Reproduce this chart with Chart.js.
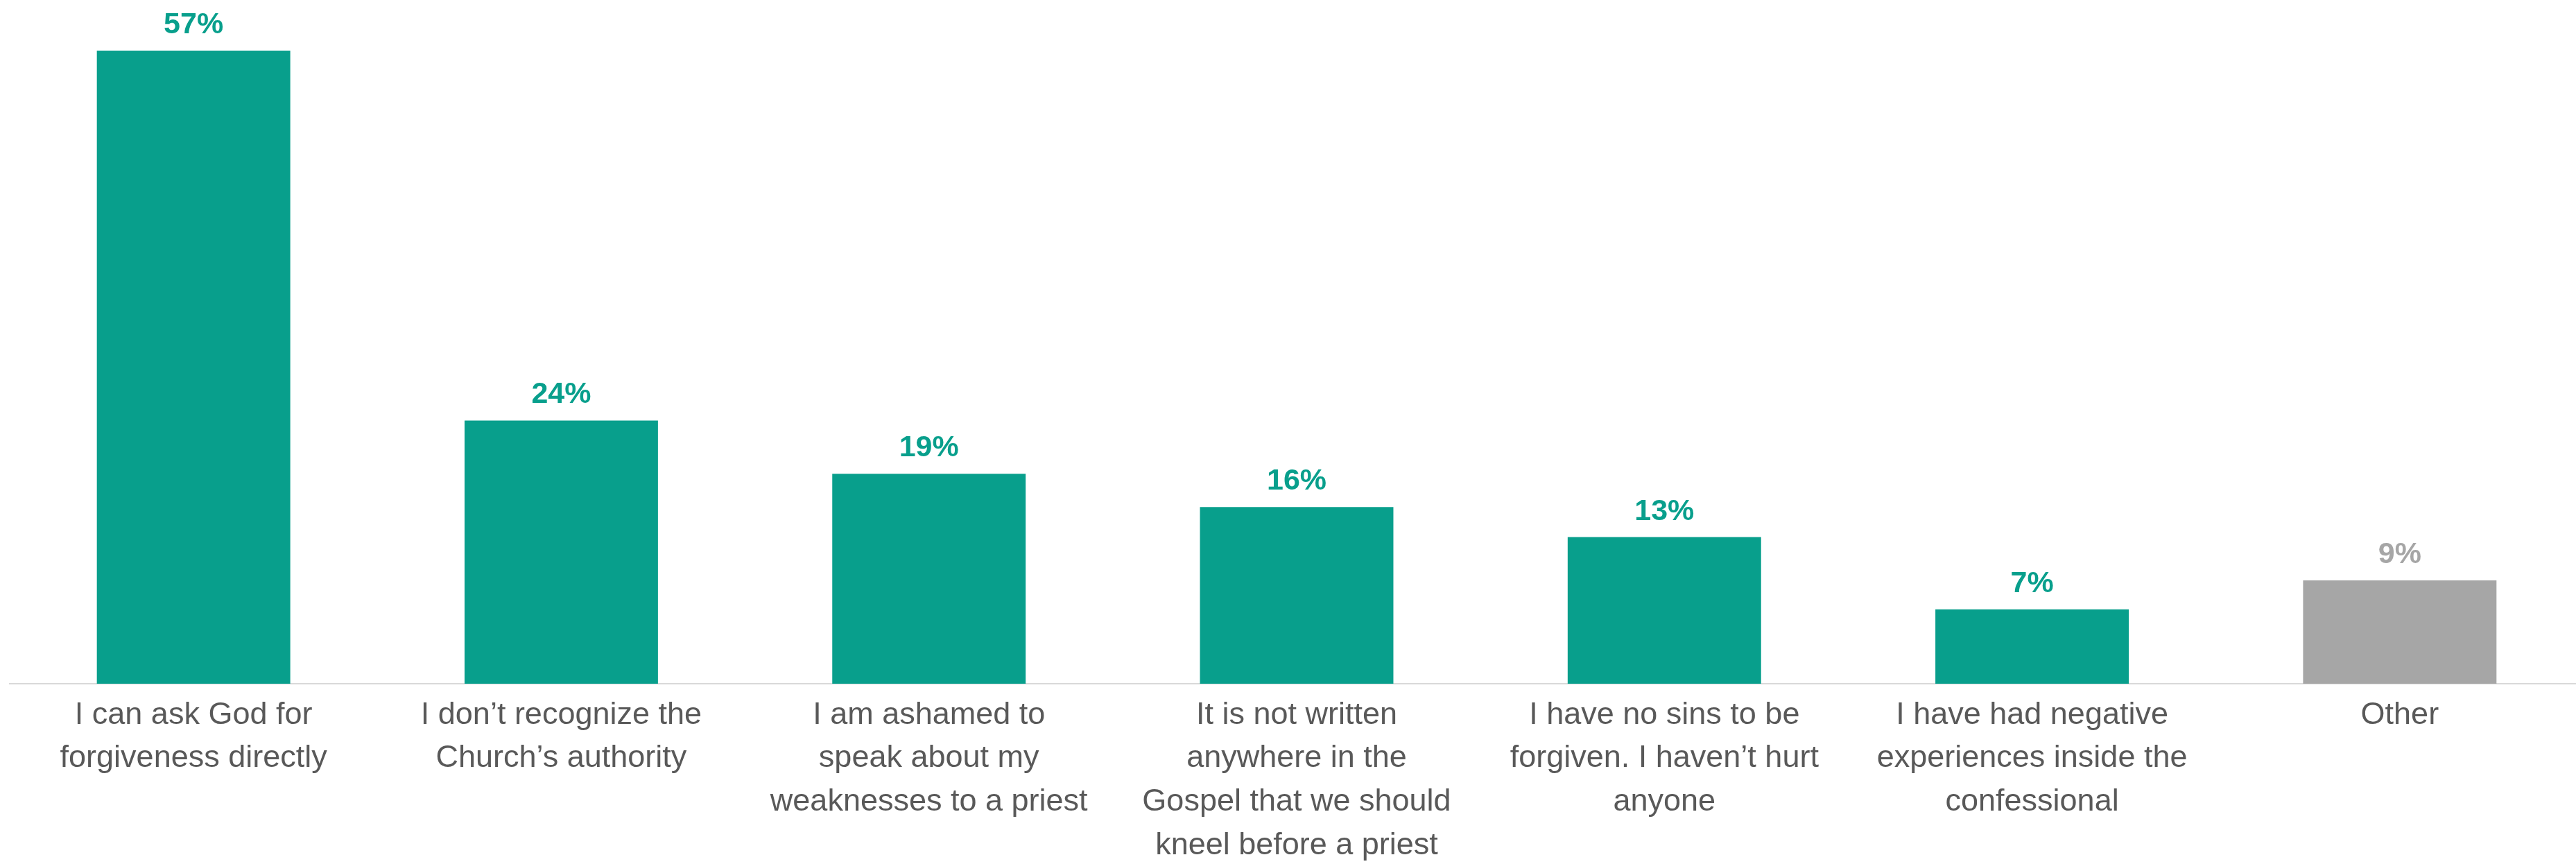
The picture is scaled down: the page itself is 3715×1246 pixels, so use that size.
<!DOCTYPE html>
<html>
<head>
<meta charset="utf-8">
<script src="https://cdn.jsdelivr.net/npm/chart.js@4"></script>
<style>
  html, body { margin: 0; padding: 0; background: #ffffff; overflow: hidden; width: 3715px; height: 1246px; }
  #wrap { position: absolute; left: 0; top: 0; width: 3726px; height: 1246px; }
</style>
</head>
<body>
<div id="wrap"><canvas id="c" width="3726" height="1246"></canvas></div>
<script>
const categories = [
  ["I can ask God for", "forgiveness directly"],
  ["I don\u2019t recognize the", "Church\u2019s authority"],
  ["I am ashamed to", "speak about my", "weaknesses to a priest"],
  ["It is not written", "anywhere in the", "Gospel that we should", "kneel before a priest"],
  ["I have no sins to be", "forgiven. I haven\u2019t hurt", "anyone"],
  ["I have had negative", "experiences inside the", "confessional"],
  ["Other"]
];
// bar heights (percent)
const values = [57.0, 23.7, 18.9, 15.9, 13.2, 6.7, 9.3];
// printed labels above bars
const valueLabels = ["57%", "24%", "19%", "16%", "13%", "7%", "9%"];

const TEAL = "#089F8C";
const GREY = "#A6A6A6";
const barColors = values.map((v, i) => i === values.length - 1 ? GREY : TEAL);

const valueLabelPlugin = {
  id: "valueLabels",
  afterDatasetsDraw(chart) {
    const ctx = chart.ctx;
    const meta = chart.getDatasetMeta(0);
    ctx.save();
    ctx.font = "bold 43px 'Liberation Sans', Arial, sans-serif";
    ctx.textAlign = "center";
    ctx.textBaseline = "alphabetic";
    meta.data.forEach((bar, i) => {
      ctx.fillStyle = barColors[i];
      ctx.fillText(valueLabels[i], bar.x, bar.y - 25);
    });
    ctx.restore();
  }
};

new Chart(document.getElementById("c"), {
  type: "bar",
  data: {
    labels: categories,
    datasets: [{
      data: values,
      backgroundColor: barColors,
      borderWidth: 0,
      barPercentage: 0.526,
      categoryPercentage: 1.0
    }]
  },
  options: {
    responsive: false,
    animation: false,
    devicePixelRatio: 1,
    layout: { padding: { left: 14, top: 25, right: 0, bottom: 0 } },
    plugins: {
      legend: { display: false },
      tooltip: { enabled: false }
    },
    scales: {
      x: {
        grid: { display: false, drawTicks: false },
        border: { display: true, color: "#D9D9D9", width: 2 },
        ticks: {
          color: "#595959",
          font: { family: "'Liberation Sans', Arial, sans-serif", size: 45, lineHeight: 1.393 },
          padding: 14,
          maxRotation: 0,
          minRotation: 0,
          autoSkip: false
        },
        afterFit(scale) { scale.height = 260; }
      },
      y: {
        display: false,
        min: 0,
        max: 60
      }
    }
  },
  plugins: [valueLabelPlugin]
});
</script>
</body>
</html>
